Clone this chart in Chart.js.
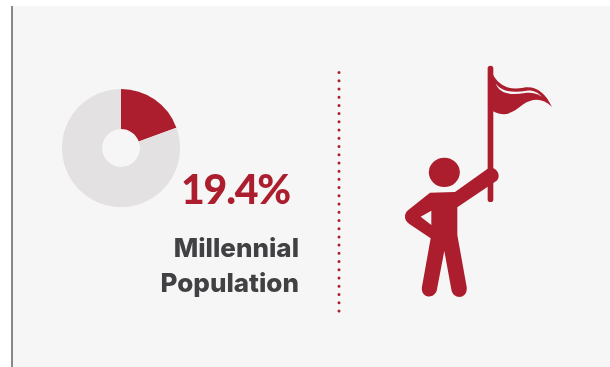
<!DOCTYPE html>
<html>
<head>
<meta charset="utf-8">
<script src="https://cdn.jsdelivr.net/npm/chart.js@4"></script>
<style>
    html, body { margin: 0; padding: 0; background: #fff; }
    #panel { position: absolute; left: 11px; top: 6px; width: 599px; height: 361px; background: #f6f6f6; border-left: 2px solid #888; box-sizing: border-box; }
    #graficoRosca { position: absolute; left: 61px; top: 88px; }
    #icone { position: absolute; left: 0; top: 0; }
    .texto { position: absolute; white-space: nowrap; }
    #valor { right: 320px; top: 162px; font-family: Lato, sans-serif; font-weight: 900; font-size: 41px; line-height: 54px; color: #ac1e2d; letter-spacing: -1.2px; }
    #rotulo { right: 311px; top: 230px; font-family: Inter, sans-serif; font-weight: 800; font-size: 26px; line-height: 35px; color: #414042; text-align: right; }
</style>
</head>
<body>
<div id="panel"></div>
<canvas id="graficoRosca" width="120" height="120"></canvas>

<svg id="icone" width="610" height="367" viewBox="0 0 610 367">
    <!-- separador pontilhado -->
    <line x1="339" y1="72.5" x2="339" y2="311" stroke="#ac1e2d" stroke-width="3" stroke-linecap="round" stroke-dasharray="0 8.22"/>
    <g transform="translate(320 50) scale(0.3333)" fill="#ac1e2d">
        <!-- mastro e bandeira -->
        <rect x="503" y="47" width="17" height="409" rx="8.5"/>
        <path d="M518 72 C535 105 565 122 610 113 C645 106 675 125 696 171 C670 145 640 142 610 163 C580 185 560 205 518 183 Z"/>
        <path d="M527 100 C545 128 585 128 620 122 C640 120 655 128 665 140 C650 130 635 127 615 129 C580 135 540 136 527 100 Z" fill="#f6f6f6"/>
        <!-- pessoa -->
        <ellipse cx="373" cy="367" rx="46.5" ry="44"/>
        <path fill-rule="evenodd" d="M330 428 L405 426 L503 356 C525 345 547 375 530 392 L412 472 L412 555 L440 710 C445 750 398 750 394 718 L373 603 L351 718 C346 750 300 745 306 710 L332 565 L268 522 C250 510 252 490 265 480 Z M302 500 L334 525 L334 482 Z"/>
    </g>
</svg>

<div class="texto" id="valor"></div>
<div class="texto" id="rotulo">Millennial<br>Population</div>

<script>
const categorias = ['Millennial Population', 'Other'];
const valores = [19.4, 80.6];
const cores = ['#ac1e2d', '#e3e1e2'];

document.getElementById('valor').textContent = valores[0] + '%';

const ctxRosca = document.getElementById('graficoRosca').getContext('2d');
const graficoRosca = new Chart(ctxRosca, {
    type: 'doughnut',
    data: {
        labels: categorias,
        datasets: [{
            data: valores,
            backgroundColor: cores,
            borderWidth: 0
        }]
    },
    options: {
        responsive: false,
        animation: false,
        cutout: '32%',
        layout: { padding: 1 },
        plugins: {
            legend: { display: false },
            tooltip: { enabled: false }
        }
    }
});
</script>
</body>
</html>
